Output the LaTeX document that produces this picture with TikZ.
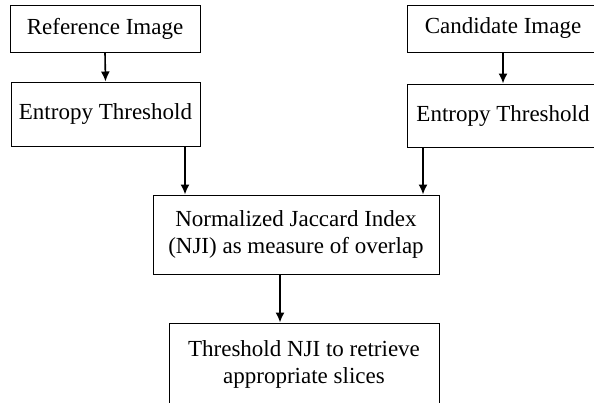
\documentclass[tikz,border=0pt]{standalone}
\usepackage{fontspec}
\setmainfont{Liberation Serif}
\usetikzlibrary{arrows.meta}
\usetikzlibrary{calc}

\tikzset{
	stagebox/.style={draw,line width=0.5pt,rectangle,align=center,inner sep=0pt,
		font=\fontsize{11.5}{13.5}\selectfont},
	flow/.style={line width=0.8pt,-{Latex[length=5pt,width=4.5pt]}}
}

\begin{document}
\begin{tikzpicture}[x=0.5pt,y=-0.5pt]
		
		\useasboundingbox (0,0) rectangle (594,402);
		\clip (0,0) rectangle (594,402);
		
		% Left branch
		\node[stagebox,minimum width=95pt,minimum height=23.5pt] (ref) at (105,28.5) {Reference Image};
		\node[stagebox,minimum width=94.5pt,minimum height=32pt] (refent) at (105.5,114) {Entropy Threshold};
		
		% Right branch (cut by the page edge)
		\node[stagebox,minimum width=96pt,minimum height=23.5pt] (cand) at (503,28.5) {Candidate Image};
		\node[stagebox,minimum width=96pt,minimum height=31.5pt] (candent) at (503,115.5) {Entropy Threshold};
		
		% Overlap and retrieval
		\node[stagebox,minimum width=143pt,minimum height=39.5pt] (nji) at (296,234.5) {Normalized Jaccard Index\\(NJI) as measure of overlap};
		\node[stagebox,minimum width=135pt,minimum height=41pt] (slices) at (304,364) {Threshold NJI to retrieve\\appropriate slices};
		
		% Connectors
		\coordinate (lx) at (185,0);
		\coordinate (rx) at (423,0);
		\coordinate (mx) at (280,0);
		\draw[flow] (ref.south) -- (refent.north);
		\draw[flow] (cand.south) -- (candent.north);
		\draw[flow] (refent.south -| lx) -- (nji.north -| lx);
		\draw[flow] (candent.south -| rx) -- (nji.north -| rx);
		\draw[flow] (nji.south -| mx) -- (slices.north -| mx);
		
	\end{tikzpicture}
\end{document}
